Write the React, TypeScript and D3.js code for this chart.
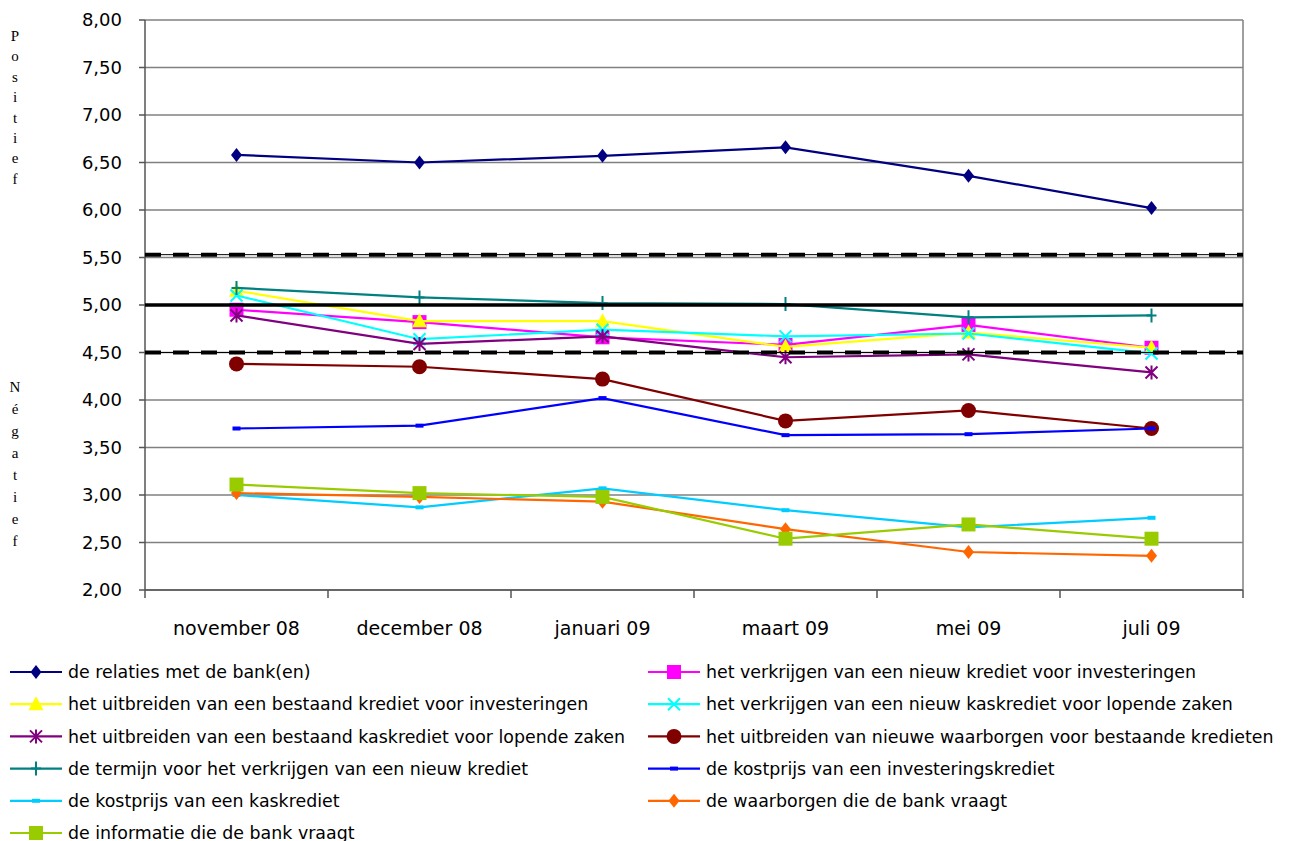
import React from 'react';
import * as d3 from 'd3';

// categories on the x axis
const categories = ['november 08', 'december 08', 'januari 09', 'maart 09', 'mei 09', 'juli 09'];

// series values (scores)
const relaties = [6.58, 6.5, 6.57, 6.66, 6.36, 6.02];
const nieuwKredietInvest = [4.95, 4.82, 4.66, 4.58, 4.79, 4.55];
const uitbreidenKredietInvest = [5.15, 4.83, 4.83, 4.56, 4.71, 4.55];
const nieuwKaskrediet = [5.1, 4.64, 4.74, 4.67, 4.7, 4.49];
const uitbreidenKaskrediet = [4.89, 4.59, 4.67, 4.45, 4.48, 4.29];
const waarborgenBestaand = [4.38, 4.35, 4.22, 3.78, 3.89, 3.7];
const termijn = [5.18, 5.08, 5.02, 5.01, 4.87, 4.89];
const kostprijsInvest = [3.7, 3.73, 4.02, 3.63, 3.64, 3.7];
const kostprijsKas = [3.0, 2.87, 3.07, 2.84, 2.66, 2.76];
const waarborgenBank = [3.02, 2.98, 2.93, 2.64, 2.4, 2.36];
const informatieBank = [3.11, 3.02, 2.98, 2.54, 2.69, 2.54];

const seriesNames = [
  'de relaties met de bank(en)',
  'het verkrijgen van een nieuw krediet voor investeringen',
  'het uitbreiden van een bestaand krediet voor investeringen',
  'het verkrijgen van een nieuw kaskrediet voor lopende zaken',
  'het uitbreiden van een bestaand kaskrediet voor lopende zaken',
  'het uitbreiden van nieuwe waarborgen voor bestaande kredieten',
  'de termijn voor het verkrijgen van een nieuw krediet',
  'de kostprijs van een investeringskrediet',
  'de kostprijs van een kaskrediet',
  'de waarborgen die de bank vraagt',
  'de informatie die de bank vraagt',
];
const seriesValues = [
  relaties,
  nieuwKredietInvest,
  uitbreidenKredietInvest,
  nieuwKaskrediet,
  uitbreidenKaskrediet,
  waarborgenBestaand,
  termijn,
  kostprijsInvest,
  kostprijsKas,
  waarborgenBank,
  informatieBank,
];
const seriesColors = [
  '#000080', '#FF00FF', '#FFFF00', '#00FFFF', '#800080', '#800000',
  '#008080', '#0000FF', '#00CCFF', '#FF6600', '#99CC00',
];
const seriesMarkers = [
  'diamond', 'square', 'triangle', 'x', 'asterisk', 'circle',
  'plus', 'dash', 'dash', 'diamond', 'square',
];

// thresholds drawn across the plot
const dashedLines = [5.53, 4.5];
const solidLine = 5.0;

const yTicks = d3.range(2, 8.001, 0.5);
const nl = d3.formatLocale({ decimal: ',', thousands: '.', grouping: [3], currency: ['', ''] });
const fmt = nl.format('.2f');

const W = 1290;
const H = 841;
const plot = { left: 145, right: 1243, top: 20, bottom: 590 };
const FONT = '"DejaVu Sans", sans-serif';

const Marker: React.FC<{ type: string; color: string; x: number; y: number }> = ({ type, color, x, y }) => {
  const t = `translate(${x},${y})`;
  switch (type) {
    case 'diamond':
      return <path transform={t} d="M0,-7L5.5,0L0,7L-5.5,0Z" fill={color} />;
    case 'square':
      return <path transform={t} d="M-7,-7H7V7H-7Z" fill={color} />;
    case 'triangle':
      return <path transform={t} d="M0,-8L7.5,6H-7.5Z" fill={color} />;
    case 'circle':
      return <circle cx={x} cy={y} r={7.5} fill={color} />;
    case 'x':
      return <path transform={t} d="M-6,-6L6,6M6,-6L-6,6" stroke={color} strokeWidth={2} fill="none" />;
    case 'asterisk':
      return <path transform={t} d="M-6,-6L6,6M6,-6L-6,6M0,-7V7" stroke={color} strokeWidth={2} fill="none" />;
    case 'plus':
      return <path transform={t} d="M-5,0H5M0,-7V7" stroke={color} strokeWidth={2} fill="none" />;
    case 'dash':
      return <rect x={x - 4} y={y - 2} width={8} height={4} fill={color} />;
    default:
      return null;
  }
};

export default function App() {
  const x = d3.scaleBand<string>().domain(categories).range([plot.left, plot.right]);
  const y = d3.scaleLinear().domain([2, 8]).range([plot.bottom, plot.top]);
  const cx = (c: string) => (x(c) ?? 0) + x.bandwidth() / 2;

  const line = d3
    .line<number>()
    .x((_, i) => cx(categories[i]))
    .y(d => y(d));

  const boundaries = categories.map(c => x(c) ?? 0).concat([plot.right]);

  return (
    <svg width={W} height={H} style={{ position: 'absolute', left: 0, top: 0, background: '#fff' }}>
      {/* gridlines */}
      {yTicks.map(t => (
        <line key={t} x1={plot.left} x2={plot.right} y1={y(t)} y2={y(t)} stroke="#808080" strokeWidth={1.5} />
      ))}
      <line x1={plot.right} x2={plot.right} y1={plot.top} y2={plot.bottom} stroke="#808080" strokeWidth={1.5} />

      {/* axes */}
      <line x1={plot.left} x2={plot.left} y1={plot.top} y2={plot.bottom} stroke="#555" strokeWidth={1.5} />
      <line x1={plot.left} x2={plot.right} y1={plot.bottom} y2={plot.bottom} stroke="#555" strokeWidth={1.5} />
      {yTicks.map(t => (
        <g key={`yt${t}`}>
          <line x1={plot.left - 6} x2={plot.left} y1={y(t)} y2={y(t)} stroke="#555" strokeWidth={1.5} />
          <text x={122} y={y(t)} dy="0.36em" textAnchor="end" fontFamily={FONT} fontSize={18}>
            {fmt(t)}
          </text>
        </g>
      ))}
      {boundaries.map(b => (
        <line key={`xt${b}`} x1={b} x2={b} y1={plot.bottom} y2={plot.bottom + 8} stroke="#555" strokeWidth={1.5} />
      ))}
      {categories.map(c => (
        <text key={c} x={cx(c)} y={635} textAnchor="middle" fontFamily={FONT} fontSize={19}>
          {c}
        </text>
      ))}

      {/* vertical side labels */}
      {'Positief'.split('').map((ch, i) => (
        <text key={`p${i}`} x={15} y={41 + i * 20.4} textAnchor="middle" fontFamily='"Liberation Serif", serif' fontSize={15}>
          {ch}
        </text>
      ))}
      {'Négatief'.split('').map((ch, i) => (
        <text key={`n${i}`} x={15} y={392 + i * 22} textAnchor="middle" fontFamily='"Liberation Serif", serif' fontSize={15}>
          {ch}
        </text>
      ))}

      {/* series */}
      {seriesValues.map((vals, s) => (
        <g key={`s${s}`}>
          <path d={line(vals) || ''} fill="none" stroke={seriesColors[s]} strokeWidth={2.2} />
          {vals.map((v, i) => (
            <Marker key={i} type={seriesMarkers[s]} color={seriesColors[s]} x={cx(categories[i])} y={y(v)} />
          ))}
        </g>
      ))}

      {/* threshold lines */}
      <line x1={plot.left} x2={plot.right} y1={y(solidLine)} y2={y(solidLine)} stroke="#000" strokeWidth={3.5} />
      {dashedLines.map(v => (
        <g key={`d${v}`}>
          <line x1={plot.left} x2={plot.right} y1={y(v)} y2={y(v)} stroke="#000" strokeWidth={1} />
          <line x1={plot.left} x2={plot.right} y1={y(v)} y2={y(v)} stroke="#000" strokeWidth={4} strokeDasharray="16,12" />
        </g>
      ))}

      {/* legend */}
      {seriesNames.map((name, i) => {
        const col = i % 2;
        const row = Math.floor(i / 2);
        const lx = col === 0 ? 10 : 648;
        const ly = 672 + row * 32.2;
        return (
          <g key={`l${i}`}>
            <line x1={lx} x2={lx + 52} y1={ly} y2={ly} stroke={seriesColors[i]} strokeWidth={2.2} />
            <Marker type={seriesMarkers[i]} color={seriesColors[i]} x={lx + 26} y={ly} />
            <text x={lx + 58} y={ly} dy="0.36em" fontFamily={FONT} fontSize={17.4}>
              {name}
            </text>
          </g>
        );
      })}
    </svg>
  );
}
